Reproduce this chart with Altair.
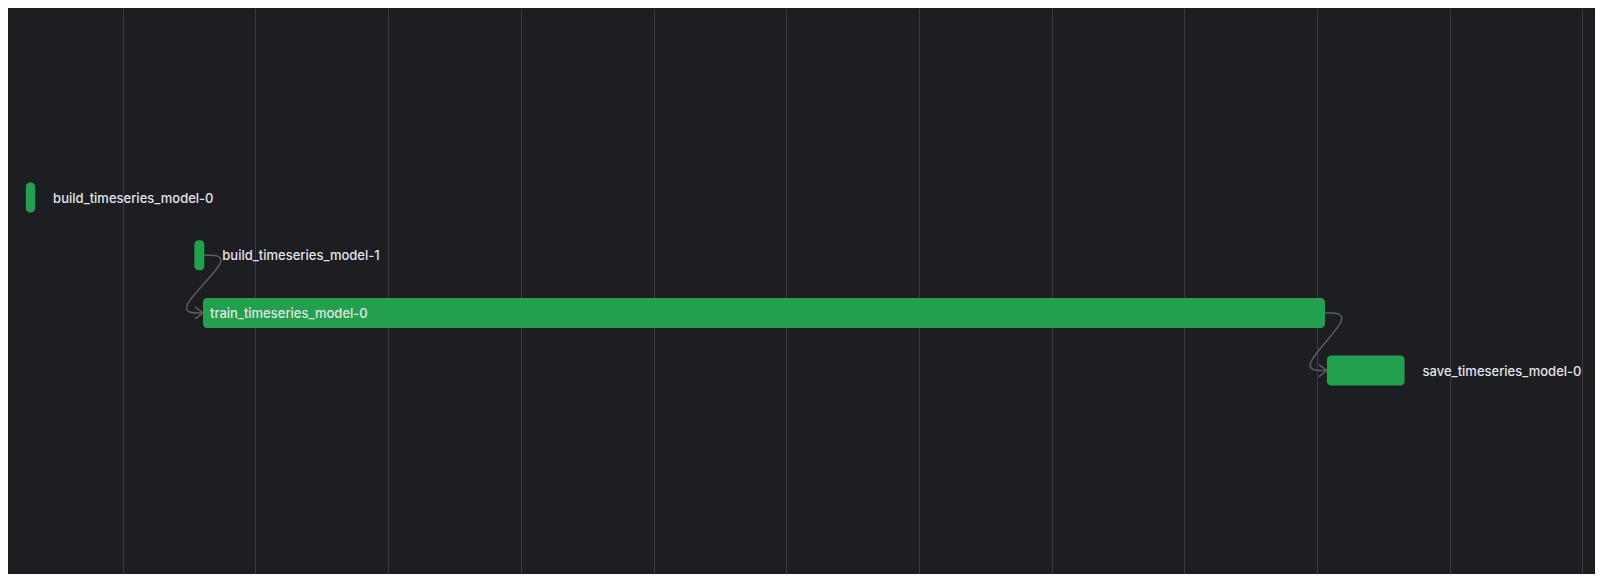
import altair as alt
import pandas as pd

# ---- data ----
tasks = ["build_timeseries_model-0", "build_timeseries_model-1",
         "train_timeseries_model-0", "save_timeseries_model-0"]
rows = [0, 1, 2, 3]
starts = [2.7, 15.4, 16.05, 100.75]
ends = [3.4, 16.15, 100.6, 106.6]
deps_from = [1, 2]
deps_to = [2, 3]
grid_ticks = [10, 20, 30, 40, 50, 60, 70, 80, 90, 100, 110, 120]

BG = "#1d1e22"
GREEN = "#22a04e"
TEXT = "#e4e4e7"
LINK = "#5b5c62"

bars = pd.DataFrame({"task": tasks, "row": rows, "start": starts, "end": ends})
bars["inside"] = (bars["end"] - bars["start"]) > 15

# connector control points derived from the bars they join
K = 2.3
link_rows = []
for i, (s, t) in enumerate(zip(deps_from, deps_to)):
    pts = [(ends[s], rows[s]), (ends[s] + K, rows[s]),
           (starts[t] - K, rows[t]), (starts[t], rows[t])]
    for j, (x, y) in enumerate(pts):
        link_rows.append({"link": i, "ord": j, "t": x, "row": y})
links = pd.DataFrame(link_rows)
heads = pd.DataFrame({"t": [starts[t] for t in deps_to],
                      "row": [rows[t] for t in deps_to]})

xscale = alt.Scale(domain=[1.356, 120.95], nice=False, zero=False)
yscale = alt.Scale(domain=[-3.2, 6.44], reverse=True, nice=False, zero=False)

xaxis = alt.Axis(values=grid_ticks, grid=True, gridColor="#3a3b40", gridWidth=1,
                 labels=False, ticks=False, domain=False, title=None, orient="top")

grid = alt.Chart(bars).mark_point(opacity=0).encode(
    x=alt.X("start:Q", scale=xscale, axis=xaxis),
    y=alt.Y("row:Q", scale=yscale, axis=None),
)

link_lines = alt.Chart(links).mark_line(
    interpolate="basis", color=LINK, strokeWidth=1.5
).encode(
    x=alt.X("t:Q", scale=xscale),
    y=alt.Y("row:Q", scale=yscale),
    detail="link:N",
    order="ord:Q",
)

arrow = alt.Chart(heads).mark_point(
    shape="M-1,-0.75L0,0L-1,0.75", filled=False, stroke=LINK,
    strokeWidth=1.5, size=256, opacity=1
).encode(
    x=alt.X("t:Q", scale=xscale),
    y=alt.Y("row:Q", scale=yscale),
)

bar_marks = alt.Chart(bars).mark_bar(
    color=GREEN, size=30, cornerRadius=4
).encode(
    x=alt.X("start:Q", scale=xscale),
    x2="end:Q",
    y=alt.Y("row:Q", scale=yscale),
)

text_style = dict(font="Inter", fontSize=13, fontWeight=500, color=TEXT,
                  align="left", baseline="middle")

inside_labels = alt.Chart(bars).transform_filter("datum.inside").mark_text(
    dx=7, dy=1, **text_style
).encode(
    x=alt.X("start:Q", scale=xscale),
    y=alt.Y("row:Q", scale=yscale),
    text="task:N",
)

outside_labels = alt.Chart(bars).transform_filter("!datum.inside").mark_text(
    dx=18, dy=1, **text_style
).encode(
    x=alt.X("end:Q", scale=xscale),
    y=alt.Y("row:Q", scale=yscale),
    text="task:N",
)

chart = alt.layer(
    grid, link_lines, arrow, bar_marks, inside_labels, outside_labels
).properties(
    width=1587, height=566, background=BG, padding=0,
    autosize=alt.AutoSizeParams(type="fit", contains="padding"),
).configure_view(stroke=None)

chart.save("out.html", embed_options={"renderer": "svg", "actions": False})
